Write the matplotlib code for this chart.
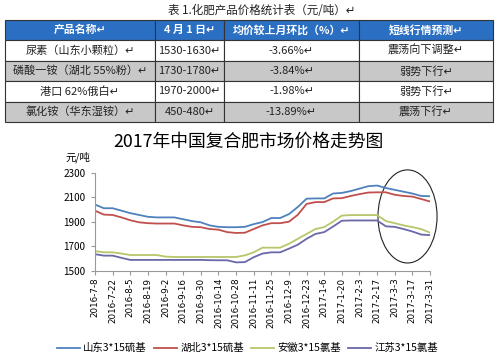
import numpy as np
import matplotlib.pyplot as plt
from matplotlib.patches import Rectangle, Ellipse

plt.rcParams['font.family'] = ['Noto Sans CJK SC', 'DejaVu Sans']

# 表1 化肥产品价格统计
tab_title = '表 1.化肥产品价格统计表（元/吨）↵'
tab_head = ['产品名称↵', '4 月 1 日↵', '均价较上月环比（%）↵', '短线行情预测↵']
products = ['尿素（山东小颗粒）↵', '磷酸一铵（湖北 55%粉）↵', '港口 62%俄白↵', '氯化铵（华东湿铵）↵']
prices = ['1530-1630↵', '1730-1780↵', '1970-2000↵', '450-480↵']
change = ['-3.66%↵', '-3.84%↵', '-1.98%↵', '-13.89%↵']
outlook = ['震荡向下调整↵', '弱势下行↵', '弱势下行↵', '震荡下行↵']

# 复合肥价格走势（每周，元/吨）
tick_labels = ['2016-7-8', '2016-7-22', '2016-8-5', '2016-8-19', '2016-9-2',
               '2016-9-16', '2016-9-30', '2016-10-14', '2016-10-28', '2016-11-11',
               '2016-11-25', '2016-12-9', '2016-12-23', '2017-1-6', '2017-1-20',
               '2017-2-3', '2017-2-17', '2017-3-3', '2017-3-17', '2017-3-31']
shandong = [2040, 2010, 2010, 1990, 1970, 1955, 1940, 1935, 1935, 1935,
            1920, 1905, 1895, 1870, 1858, 1855, 1855, 1858, 1880, 1897,
            1930, 1930, 1962, 2020, 2088, 2090, 2090, 2130, 2135, 2150,
            2170, 2190, 2195, 2175, 2160, 2145, 2130, 2110, 2108]
hubei = [1990, 1958, 1955, 1935, 1912, 1895, 1888, 1885, 1885, 1885,
         1870, 1858, 1855, 1840, 1835, 1815, 1808, 1810, 1840, 1870,
         1888, 1888, 1900, 1956, 2045, 2060, 2060, 2090, 2092, 2110,
         2125, 2138, 2140, 2140, 2120, 2110, 2105, 2085, 2065]
anhui = [1660, 1650, 1650, 1640, 1628, 1628, 1628, 1628, 1615, 1612,
         1612, 1612, 1612, 1612, 1612, 1612, 1612, 1625, 1650, 1688,
         1688, 1688, 1720, 1760, 1800, 1840, 1856, 1900, 1950, 1954,
         1954, 1954, 1954, 1905, 1888, 1870, 1856, 1840, 1811]
jiangsu = [1635, 1623, 1623, 1605, 1588, 1588, 1588, 1588, 1588, 1588,
           1588, 1588, 1588, 1586, 1585, 1585, 1568, 1570, 1610, 1640,
           1650, 1650, 1680, 1712, 1760, 1800, 1815, 1860, 1908, 1910,
           1910, 1910, 1910, 1862, 1858, 1840, 1820, 1795, 1790]

fig = plt.figure(figsize=(5, 3.62), dpi=100)

# ---- 表格（像素坐标）----
ov = fig.add_axes([0, 0, 1, 1])
ov.set_xlim(0, 500)
ov.set_ylim(362, 0)
ov.axis('off')

cols = [5, 155, 224, 359, 493]
rows = [20, 40, 61, 81, 102, 122]
ov.text(262, 11, tab_title, ha='center', va='center', fontsize=8.3, color='#222222')

body = list(zip(products, prices, change, outlook))
for r in range(5):
    y0, y1 = rows[r], rows[r + 1]
    if r == 0:
        fc = '#2b6fc2'
    elif r % 2 == 0:
        fc = '#c8c8c8'
    else:
        fc = 'white'
    for c in range(4):
        x0, x1 = cols[c], cols[c + 1]
        ov.add_patch(Rectangle((x0, y0), x1 - x0, y1 - y0, facecolor=fc,
                               edgecolor='#333333', lw=0.8))
        if r == 0:
            ov.text((x0 + x1) / 2, (y0 + y1) / 2, tab_head[c], ha='center', va='center',
                    fontsize=7.8, color='white', fontweight='bold')
        else:
            ov.text((x0 + x1) / 2, (y0 + y1) / 2, body[r - 1][c], ha='center', va='center',
                    fontsize=8, color='#222222')

# ---- 走势图 ----
ax = fig.add_axes([95 / 500, 1 - 270.7 / 362, 335 / 500, 98 / 362])
weeks = np.arange(len(shandong))
ax.plot(weeks, shandong, color='#4f81bd', lw=1.3, label='山东3*15硫基')
ax.plot(weeks, hubei, color='#c0504d', lw=1.3, label='湖北3*15硫基')
ax.plot(weeks, anhui, color='#b8c66a', lw=1.3, label='安徽3*15氯基')
ax.plot(weeks, jiangsu, color='#6a68a8', lw=1.3, label='江苏3*15氯基')

ax.set_xlim(0, 38)
ax.set_ylim(1500, 2300)
ax.set_yticks([1500, 1700, 1900, 2100, 2300])
ax.set_xticks(weeks[::2])
ax.set_xticklabels(tick_labels, rotation=90, fontsize=6.3, family='DejaVu Sans')
ax.tick_params(axis='y', labelsize=7.2, length=3, color='#999999', pad=4)
ax.tick_params(axis='x', length=3, color='#999999', pad=2)
for s in ['top', 'right']:
    ax.spines[s].set_visible(False)
for s in ['left', 'bottom']:
    ax.spines[s].set_color('#999999')
    ax.spines[s].set_linewidth(0.8)

ax.add_patch(Ellipse((35.45, 1943), 6.7, 760, fill=False, edgecolor='#222222',
                     lw=0.8, clip_on=False))

fig.text(78 / 500, 1 - 157 / 362, '元/吨', ha='center', va='center', fontsize=7.5)
fig.text(248 / 500, 1 - 142 / 362, '2017年中国复合肥市场价格走势图', ha='center',
         va='center', fontsize=12.8)

fig.legend(loc='center', bbox_to_anchor=(0.495, 1 - 348 / 362), ncol=4, frameon=False,
           fontsize=7.5, handlelength=2.2, handletextpad=0.3, columnspacing=0.7)

fig.savefig('out.png', dpi=100)
